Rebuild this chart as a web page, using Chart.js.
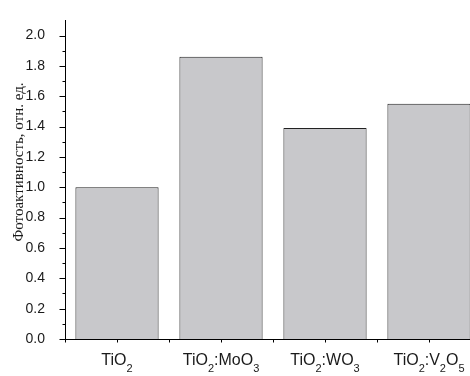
<!DOCTYPE html>
<html>
<head>
<meta charset="utf-8">
<script src="https://cdn.jsdelivr.net/npm/chart.js@4"></script>
<style>
  html, body { margin: 0; padding: 0; background: #fff; overflow: hidden; }
  #wrap { width: 470px; height: 376px; overflow: hidden; }
  canvas { display: block; }
</style>
</head>
<body>
<div id="wrap"><canvas id="chart" width="490" height="376"></canvas></div>
<script>
// data
const categories = ['TiO2', 'TiO2:MoO3', 'TiO2:WO3', 'TiO2:V2O5'];
const activity = [1.0, 1.86, 1.39, 1.55];
const yTitle = 'Фотоактивность, отн. ед.';
const yMin = 0;
const yMax = 2.1;

const textColor = '#1a1a1a';

// draws axis tick marks, the rotated axis title and the x labels with subscripts
const decorations = {
  id: 'decorations',
  afterDraw(chart) {
    const ctx = chart.ctx;
    const xs = chart.scales.x, ys = chart.scales.y;
    const area = chart.chartArea;
    ctx.save();

    ctx.strokeStyle = '#000';
    ctx.lineWidth = 1;
    ctx.beginPath();
    for (let i = 0; i <= 20; i++) {
      const py = Math.round(ys.getPixelForValue(i / 10)) + 0.5;
      const len = i % 2 === 0 ? 6 : 3;
      ctx.moveTo(area.left + 0.5 - len, py);
      ctx.lineTo(area.left + 0.5, py);
    }
    const half = (xs.getPixelForValue(1) - xs.getPixelForValue(0)) / 2;
    const bottom = Math.round(area.bottom) + 0.5;
    for (let i = 0; i < categories.length; i++) {
      const c = xs.getPixelForValue(i);
      [c - half, c].forEach(px => {
        const p = Math.round(px) + 0.5;
        ctx.moveTo(p, bottom);
        ctx.lineTo(p, bottom + 3);
      });
    }
    ctx.stroke();

    // y title
    ctx.fillStyle = textColor;
    ctx.save();
    ctx.translate(19, 162);
    ctx.rotate(-Math.PI / 2);
    ctx.font = '15px "Liberation Serif", serif';
    ctx.textAlign = 'center';
    ctx.textBaseline = 'middle';
    ctx.fillText(yTitle, 0, 0);
    ctx.restore();

    // x labels, digits as subscripts
    const mainFont = '16px "Liberation Sans", Arial, sans-serif';
    const subFont = '11px "Liberation Sans", Arial, sans-serif';
    ctx.textAlign = 'left';
    ctx.textBaseline = 'alphabetic';
    categories.forEach((label, i) => {
      const runs = label.split(/(\d+)/).filter(s => s.length);
      let total = 0;
      const widths = runs.map(r => {
        ctx.font = /^\d+$/.test(r) ? subFont : mainFont;
        const w = ctx.measureText(r).width;
        total += w;
        return w;
      });
      let px = xs.getPixelForValue(i) - total / 2;
      runs.forEach((r, k) => {
        const sub = /^\d+$/.test(r);
        ctx.font = sub ? subFont : mainFont;
        ctx.fillText(r, px, sub ? 372 : 365);
        px += widths[k];
      });
    });

    ctx.restore();
  }
};

new Chart(document.getElementById('chart').getContext('2d'), {
  type: 'bar',
  data: {
    labels: categories,
    datasets: [{
      data: activity,
      backgroundColor: '#c8c8cb',
      borderColor: '#222',
      borderWidth: 1,
      barPercentage: 0.8,
      categoryPercentage: 1.0
    }]
  },
  options: {
    responsive: false,
    animation: false,
    layout: { padding: { top: 12, right: 9, left: 0, bottom: 0 } },
    plugins: {
      legend: { display: false },
      tooltip: { enabled: false }
    },
    scales: {
      x: {
        grid: { display: false },
        border: { color: '#000', width: 1 },
        ticks: { display: false },
        afterFit: s => { s.height = 37; }
      },
      y: {
        min: yMin,
        max: yMax,
        grid: { display: false },
        border: { color: '#000', width: 1 },
        ticks: {
          stepSize: 0.1,
          padding: 12,
          color: textColor,
          font: { family: '"Liberation Sans", Arial, sans-serif', size: 14 },
          callback: v => (Math.round(v * 10) % 2 === 0 && v <= 2.0 ? v.toFixed(1) : '')
        },
        afterFit: s => { s.width = 65; }
      }
    }
  },
  plugins: [decorations]
});
</script>
</body>
</html>
